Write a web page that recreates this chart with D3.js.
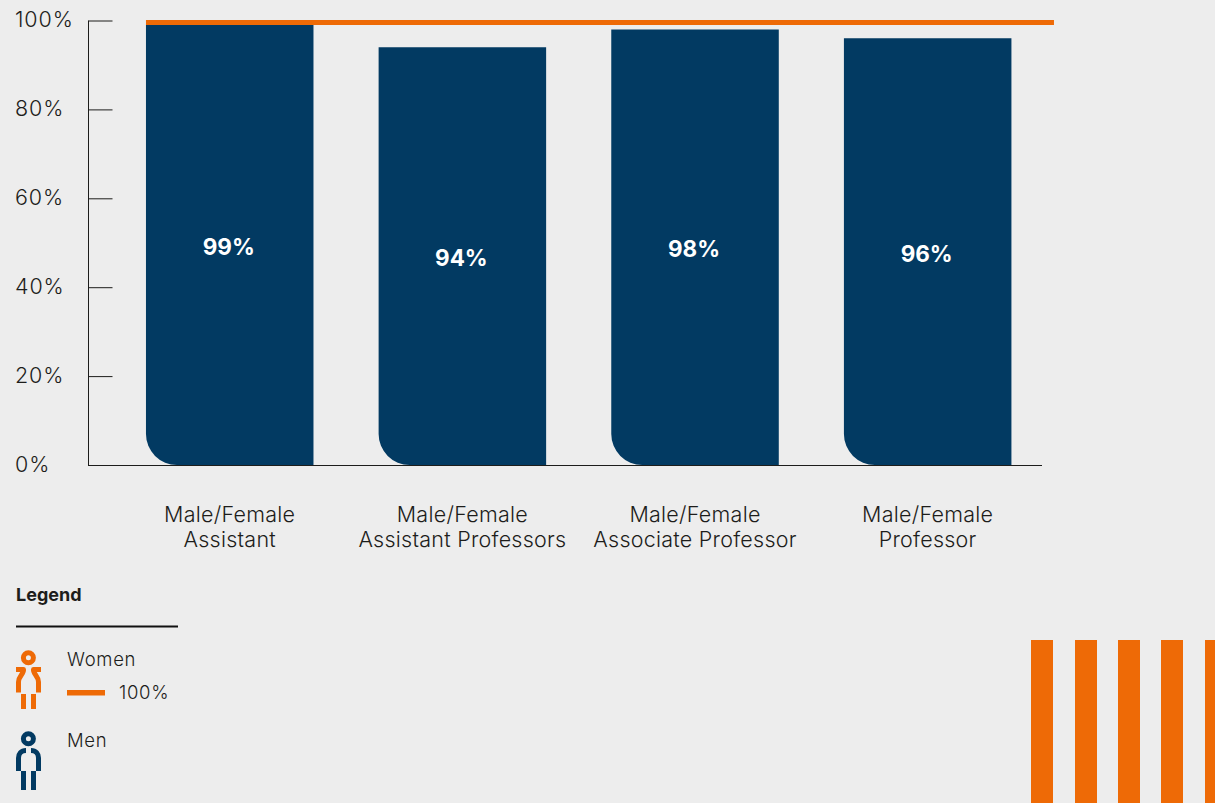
<!DOCTYPE html>
<html>
<head>
<meta charset="utf-8">
<script src="https://cdn.jsdelivr.net/npm/d3@7/dist/d3.min.js"></script>
<style>
  html, body { margin: 0; padding: 0; background: #ededed; overflow: hidden; }
  svg { display: block; }
  text { font-family: Inter, "Open Sans", sans-serif; fill: #1d1d1b; }
</style>
</head>
<body>
<svg id="chart" width="1215" height="803"></svg>
<script>
const categories = [
  ["Male/Female", "Assistant"],
  ["Male/Female", "Assistant Professors"],
  ["Male/Female", "Associate Professor"],
  ["Male/Female", "Professor"]
];
const ratios = [99, 94, 98, 96];
const parityLevel = 100;
const yTicks = [0, 20, 40, 60, 80, 100];
const decorStripes = [1031, 1075, 1118, 1161, 1205];

const NAVY = "#023a62", ORANGE = "#ee6a06", INK = "#1d1d1b";

const svg = d3.select("#chart");

const x = d3.scaleBand()
  .domain(d3.range(categories.length))
  .range([113.4, 1044])
  .paddingInner(0.28)
  .paddingOuter(0.14);

const y = d3.scaleLinear().domain([0, 100]).range([465, 20.5]);

// Bars: square except for the rounded lower-left corner
const cornerRadius = 31;
svg.append("g").selectAll("path")
  .data(ratios)
  .join("path")
  .attr("fill", NAVY)
  .attr("d", (d, i) => {
    const l = x(i), r = l + x.bandwidth(), t = y(d), b = y(0);
    const p = d3.path();
    p.moveTo(l, t);
    p.lineTo(r, t);
    p.lineTo(r, b);
    p.lineTo(l + cornerRadius, b);
    p.arcTo(l, b, l, b - cornerRadius, cornerRadius);
    p.closePath();
    return p.toString();
  });

// Value labels sit at mid-height of each bar
svg.append("g").selectAll("text")
  .data(ratios)
  .join("text")
  .attr("x", (d, i) => x(i) + x.bandwidth() / 2 - 1)
  .attr("y", d => (y(d) + y(0)) / 2 + 10)
  .attr("text-anchor", "middle")
  .attr("font-size", 22.5)
  .attr("font-weight", 700)
  .style("fill", "#fff")
  .text(d => d + "%");

// Y axis
const yAxis = d3.axisLeft(y)
  .tickValues(yTicks)
  .tickSize(-24)
  .tickPadding(38)
  .tickFormat(d => d + "%");
const yG = svg.append("g").attr("transform", "translate(88.5,0)").call(yAxis);
yG.select(".domain").attr("stroke", INK).attr("stroke-width", 1).attr("d", "M0,20.5V465");
yG.selectAll(".tick line").attr("stroke", INK).attr("stroke-width", 1);
yG.selectAll(".tick text")
  .attr("x", -73.5)
  .attr("text-anchor", "start")
  .attr("font-size", 21.5)
  .attr("font-weight", 300)
  .attr("letter-spacing", 0.9)
  .attr("dy", "0.3em")
  .style("font-family", "Inter, sans-serif");

// Baseline
svg.append("line")
  .attr("x1", 88).attr("x2", 1042)
  .attr("y1", y(0) + 0.5).attr("y2", y(0) + 0.5)
  .attr("stroke", INK).attr("stroke-width", 1);

// 100% parity line, drawn over the bars
svg.append("rect")
  .attr("x", x(0)).attr("y", y(parityLevel) - 0.5)
  .attr("width", 908).attr("height", 5)
  .attr("fill", ORANGE);

// Category labels
const catG = svg.append("g").selectAll("text")
  .data(categories)
  .join("text")
  .attr("text-anchor", "middle")
  .attr("font-size", 21.5)
  .attr("font-weight", 300)
  .attr("letter-spacing", 0.25);
catG.selectAll("tspan")
  .data((d, i) => d.map(line => ({ line, i })))
  .join("tspan")
  .attr("x", d => x(d.i) + x.bandwidth() / 2)
  .attr("y", (d, j) => 522 + j * 25)
  .text(d => d.line);

// Legend
const legend = svg.append("g");
legend.append("text").attr("x", 16).attr("y", 601)
  .attr("font-size", 18).attr("font-weight", 700).text("Legend");
legend.append("line").attr("x1", 16).attr("x2", 178).attr("y1", 626.5).attr("y2", 626.5)
  .attr("stroke", "#111").attr("stroke-width", 2);

function drawFigure(g, color, headY, bodyPaths, legTop, legBottom) {
  g.append("circle").attr("cx", 28.4).attr("cy", headY).attr("r", 5)
    .attr("fill", "none").attr("stroke", color).attr("stroke-width", 5);
  bodyPaths.forEach(d => g.append("path").attr("d", d)
    .attr("fill", "none").attr("stroke", color).attr("stroke-width", 5)
    .attr("stroke-linejoin", "round"));
  [21, 31].forEach(lx => g.append("rect")
    .attr("x", lx).attr("y", legTop).attr("width", 5).attr("height", legBottom - legTop)
    .attr("fill", color));
}

drawFigure(legend.append("g"), ORANGE, 657.7,
  ["M16,669.5H23.5C24,674 18.5,676 18.5,682V692.5", "M41,669.5H33.5C33,674 38.5,676 38.5,682V692.5"], 694, 709);
drawFigure(legend.append("g"), NAVY, 738.8,
  ["M26,750.5C21,750.5 18.5,754 18.5,758V771", "M31,750.5C36,750.5 38.5,754 38.5,758V771"], 771, 790);

const legendType = { size: 18.5, spacing: 0.7 };
[["Women", 67, 666], ["100%", 119, 699], ["Men", 67, 747]].forEach(([label, lx, ly]) => {
  legend.append("text").attr("x", lx).attr("y", ly)
    .attr("font-size", legendType.size).attr("font-weight", 300)
    .attr("letter-spacing", legendType.spacing).text(label);
});
legend.append("rect").attr("x", 67).attr("y", 690).attr("width", 38).attr("height", 5.5).attr("fill", ORANGE);

// Decorative stripes, lower right
svg.append("g").selectAll("rect")
  .data(decorStripes)
  .join("rect")
  .attr("x", d => d).attr("y", 640)
  .attr("width", 22).attr("height", 163)
  .attr("fill", ORANGE);
</script>
</body>
</html>
